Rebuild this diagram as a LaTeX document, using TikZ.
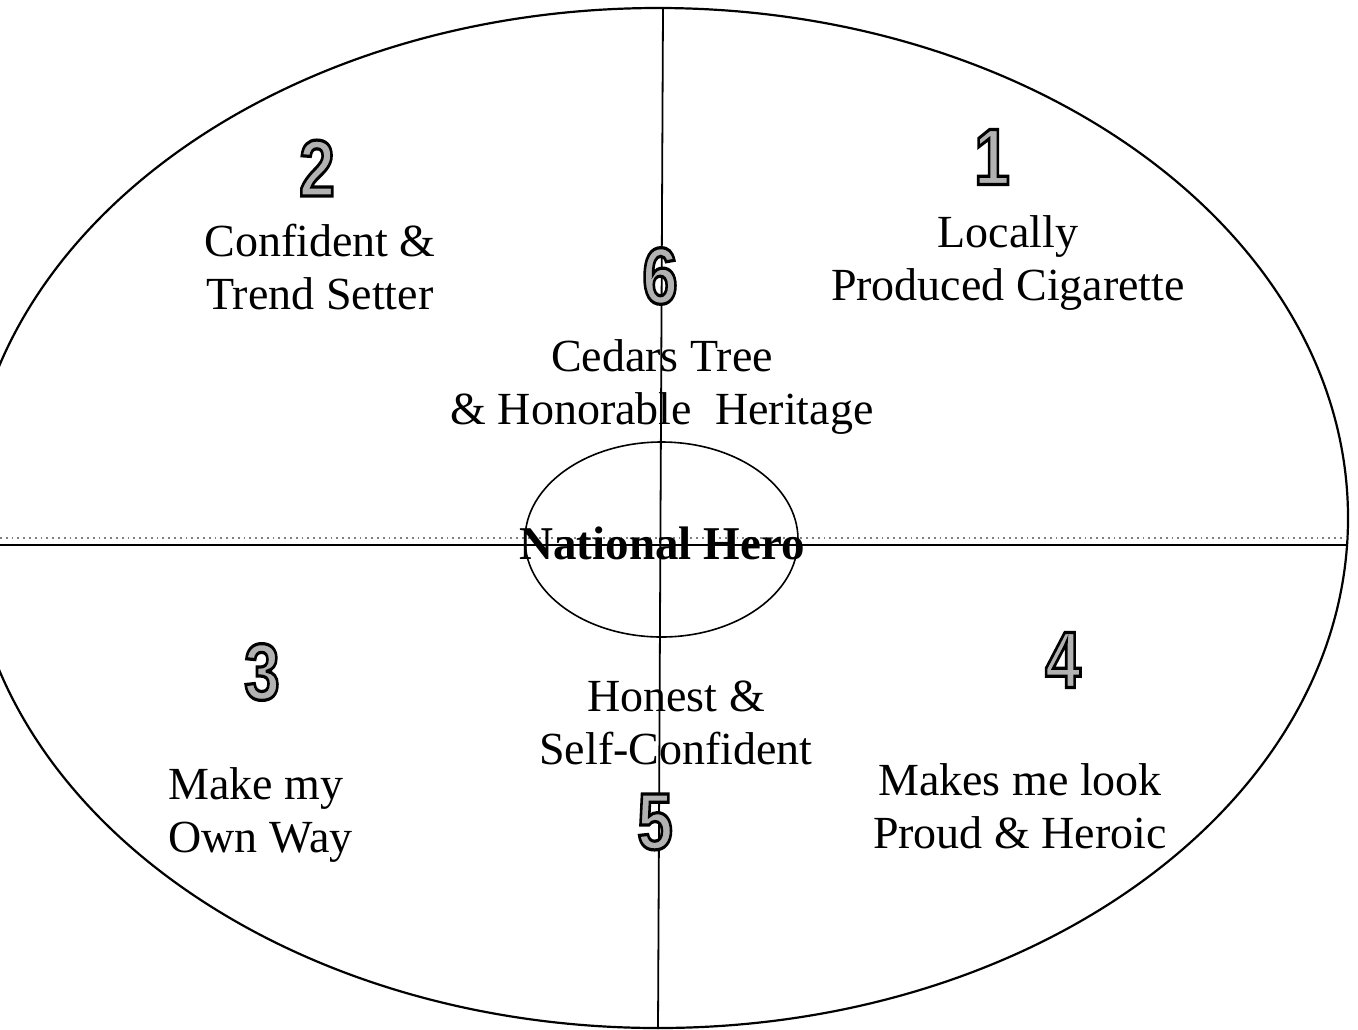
\documentclass[tikz,border=0pt]{standalone}
\usetikzlibrary{shapes.geometric}
\usepackage{fontspec}
\setmainfont{Liberation Serif}
\newfontfamily\digitfont{Liberation Sans}
\tikzset{
  lbl/.style={font=\fontsize{23pt}{26.5pt}\selectfont, align=center, inner sep=0pt},
  lbll/.style={font=\fontsize{23pt}{26.5pt}\selectfont, align=left, inner sep=0pt},
  num/.style={font=\digitfont\bfseries\fontsize{40pt}{40pt}\selectfont, inner sep=0pt, xscale=0.8},
  hero/.style={font=\bfseries\fontsize{23.5pt}{26pt}\selectfont, inner sep=0pt},
  axis/.style={line width=1.1pt, black},
  dotax/.style={line width=0.9pt, gray, dotted}
}
\newcommand{\dg}[1]{\textcolor{black!30}{\special{pdf:literal direct 2 Tr 1.6 w 0 G}#1\special{pdf:literal direct 0 Tr}}}
\begin{document}
\begin{tikzpicture}[x=0.5pt,y=-0.5pt]
\useasboundingbox (0,0) rectangle (1358,1029);
\clip (0,0) rectangle (1358,1029);
\fill[white] (0,0) rectangle (1358,1029);
% outer ellipse
\node[draw, line width=1.1pt, ellipse, minimum width=690pt, minimum height=510pt, inner sep=0pt] (outer) at (658,518) {};
% axes
\coordinate (top) at (663,8);
\coordinate (bot) at (658,1029);
\coordinate (lft) at (0,545);
\coordinate (rgt) at (1347,545);
\coordinate (lftd) at (0,538);
\coordinate (rgtd) at (1347,538);
\draw[dotax] (lftd) -- (rgtd);
\draw[axis] (lft) -- (rgt);
\draw[axis, line width=0.9pt] (top) -- (bot);
% inner ellipse
\node[draw, line width=0.8pt, ellipse, minimum width=136.5pt, minimum height=97.5pt, inner sep=0pt] (inner) at (661.5,539.5) {};
\node[hero] (hero) at (662,543) {National Hero};
% numbers
\node[num] (n1) at (992,157) {\dg{1}};
\node[num] (n2) at (317,168) {\dg{2}};
\node[num] (n3) at (262,672) {\dg{3}};
\node[num] (n4) at (1063,660) {\dg{4}};
\node[num] (n5) at (655,822) {\dg{5}};
\node[num] (n6) at (660,276) {\dg{6}};
% labels
\node[lbl] (t1) at (1008,263) {Locally\\Produced Cigarette};
\node[lbl] (t2) at (320,267) {Confident \&\\Trend Setter};
\node[lbl] (t6) at (662,387) {Cedars Tree\\\& Honorable\ \ Heritage};
\node[lbll, anchor=west] (t3) at (168,815) {Make my\\Own Way};
\node[lbl] (t5) at (676,723) {Honest \&\\Self-Confident};
\node[lbl] (t4) at (1020,806) {Makes me look\\Proud \& Heroic};
\end{tikzpicture}
\end{document}
